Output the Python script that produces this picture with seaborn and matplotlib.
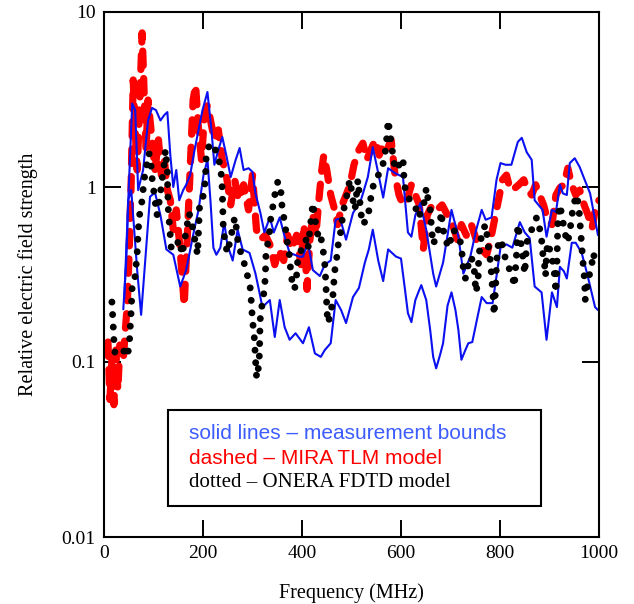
import numpy as np
import pandas as pd
import matplotlib
matplotlib.use("Agg")
import matplotlib.pyplot as plt
import seaborn as sns
from matplotlib.ticker import FixedLocator, FixedFormatter, NullLocator
from matplotlib.patches import Rectangle

# ---------------- data ----------------
upper_f = [41, 49, 57, 63, 69, 79, 89, 97, 105, 114, 122, 128, 134, 140, 146, 152, 160, 166, 174, 183,
           191, 199, 209, 217, 223, 231, 239, 247, 256, 266, 274, 282, 292, 300, 306, 316, 324, 335, 343, 355,
           365, 375, 385, 395, 402, 412, 422, 436, 446, 458, 468, 477, 489, 503, 519, 533, 543, 554, 564, 574,
           588, 604, 614, 621, 629, 639, 651, 665, 671, 685, 694, 702, 716, 726, 740, 752, 763, 771, 783, 793,
           801, 811, 823, 836, 844, 854, 864, 870, 886, 894, 905, 913, 921, 927, 935, 941, 951, 961, 971, 982,
           992, 998]
upper_v = [0.23, 0.84, 3.0, 2.75, 0.96, 1.25, 2.4, 2.83, 2.75, 2.4, 2.58, 2.68, 1.52, 1.0, 1.25, 0.84, 0.96, 1.03, 1.17, 1.63,
           2.12, 2.75, 3.49, 2.12, 1.34, 1.63, 1.93, 1.52, 1.14, 1.43, 1.67, 1.25, 1.28, 1.22, 0.92, 0.71, 0.55, 0.67, 0.55, 0.67,
           0.52, 0.42, 0.41, 0.40, 0.40, 0.48, 0.335, 0.31, 0.36, 0.38, 0.65, 0.66, 0.50, 0.71, 0.84, 1.14, 1.69, 1.20, 0.87, 1.28,
           1.20, 1.14, 0.55, 0.52, 0.69, 0.81, 0.57, 0.32, 0.27, 0.37, 0.53, 0.74, 0.52, 0.32, 0.40, 0.57, 0.74, 0.65, 0.67, 1.10,
           1.37, 1.34, 1.34, 1.81, 1.91, 1.58, 1.43, 0.84, 0.74, 0.52, 0.74, 0.72, 1.03, 0.92, 0.90, 1.37, 1.46, 1.30, 1.10, 0.92,
           0.65, 0.53]

lower_f = [39, 45, 49, 55, 61, 67, 75, 85, 93, 103, 114, 126, 140, 154, 166, 180, 191, 201, 209, 215,
           221, 227, 235, 243, 249, 260, 270, 280, 294, 306, 314, 320, 335, 345, 355, 365, 375, 387, 402, 414,
           426, 438, 446, 458, 468, 479, 489, 503, 515, 527, 535, 543, 554, 564, 574, 590, 600, 608, 614, 621,
           629, 635, 641, 651, 659, 665, 671, 679, 685, 694, 702, 710, 716, 722, 730, 736, 744, 752, 763, 773,
           785, 793, 801, 813, 825, 840, 850, 860, 870, 884, 894, 905, 915, 921, 929, 935, 945, 953, 965, 976,
           992, 998]
lower_v = [0.20, 0.38, 0.84, 0.96, 0.57, 0.335, 0.186, 0.44, 0.88, 0.93, 0.69, 0.44, 0.41, 0.27, 0.335, 0.53, 0.74, 1.17, 1.43, 0.84,
           0.45, 0.41, 0.45, 0.63, 0.47, 0.38, 0.57, 0.44, 0.42, 0.32, 0.25, 0.206, 0.226, 0.139, 0.226, 0.158, 0.134, 0.146, 0.128, 0.158,
           0.112, 0.107, 0.117, 0.128, 0.226, 0.198, 0.167, 0.235, 0.265, 0.37, 0.44, 0.57, 0.38, 0.29, 0.44, 0.40, 0.39, 0.26, 0.19, 0.169,
           0.226, 0.25, 0.275, 0.226, 0.152, 0.107, 0.092, 0.11, 0.128, 0.21, 0.25, 0.198, 0.152, 0.103, 0.117, 0.128, 0.13, 0.167, 0.235, 0.217,
           0.217, 0.31, 0.45, 0.47, 0.45, 0.63, 0.55, 0.51, 0.27, 0.25, 0.134, 0.25, 0.206, 0.35, 0.33, 0.30, 0.48, 0.48, 0.42, 0.32,
           0.206, 0.198]

mira_f = [8, 12, 16, 20, 24, 28, 32, 39, 43, 47, 51, 55, 59, 63, 67, 71, 75, 77, 81, 85,
          89, 93, 97, 103, 110, 116, 122, 128, 134, 140, 146, 152, 158, 162, 168, 174, 180, 185, 191, 197,
          203, 209, 215, 223, 231, 239, 247, 256, 264, 272, 282, 292, 300, 308, 316, 326, 335, 345, 353, 363,
          371, 379, 389, 398, 404, 410, 416, 422, 428, 434, 440, 444, 450, 458, 466, 472, 481, 489, 497, 505,
          515, 523, 531, 539, 548, 556, 564, 572, 580, 588, 596, 604, 612, 621, 629, 637, 645, 653, 663, 673,
          683, 694, 704, 714, 722, 732, 742, 752, 763, 773, 781, 789, 797, 805, 813, 821, 829, 838, 848, 856,
          864, 872, 880, 888, 896, 905, 913, 921, 929, 937, 945, 953, 961, 970, 978, 986, 994, 1000]
mira_v = [0.13, 0.061, 0.103, 0.057, 0.117, 0.069, 0.125, 0.103, 0.152, 0.21, 0.44, 1.10, 4.09, 2.12, 1.25, 2.41, 5.3, 7.6, 3.58, 1.63,
          3.14, 2.41, 1.86, 1.25, 1.86, 1.17, 1.43, 0.96, 0.84, 0.57, 0.74, 0.50, 0.31, 0.21, 0.50, 1.25, 3.14, 3.83, 2.12, 1.43,
          2.58, 2.94, 2.41, 1.86, 2.12, 1.43, 1.17, 0.79, 1.10, 0.84, 1.03, 0.74, 1.17, 0.57, 0.50, 0.53, 0.47, 0.36, 0.44, 0.38,
          0.53, 0.44, 0.53, 0.36, 0.61, 0.26, 0.50, 0.69, 0.53, 0.84, 1.25, 1.52, 1.25, 0.90, 0.74, 0.61, 0.79, 0.90, 1.03, 1.34,
          1.63, 1.78, 1.43, 1.63, 1.86, 1.52, 1.74, 1.63, 1.86, 1.17, 0.90, 0.79, 0.84, 1.03, 0.90, 0.79, 0.44, 0.69, 0.79, 0.74,
          0.79, 0.69, 0.61, 0.50, 0.61, 0.53, 0.61, 0.50, 0.44, 0.41, 0.50, 0.65, 0.84, 1.10, 1.17, 0.96, 0.98, 1.03, 1.10, 0.96,
          0.90, 1.03, 0.90, 0.79, 0.65, 0.61, 0.90, 0.99, 1.03, 1.28, 1.03, 0.90, 0.96, 0.79, 0.69, 0.58, 0.79, 0.84]

onera_f = [16, 18, 20, 22, 30, 39, 47, 51, 55, 57, 63, 67, 69, 71, 77, 81, 85, 91, 95, 97,
           103, 107, 112, 118, 122, 124, 128, 129, 130, 134, 136, 144, 152, 158, 164, 172, 178, 189, 193, 199,
           205, 206, 209, 215, 225, 233, 237, 239, 240, 241, 245, 249, 256, 264, 268, 270, 276, 284, 290, 296,
           298, 300, 304, 306, 308, 310, 314, 315, 316, 320, 324, 326, 327, 331, 335, 337, 341, 345, 351, 357,
           358, 361, 367, 371, 375, 377, 381, 385, 389, 391, 395, 402, 408, 412, 416, 420, 422, 428, 434, 438,
           444, 446, 448, 449, 450, 452, 458, 462, 464, 466, 470, 472, 479, 483, 489, 493, 497, 503, 507, 513,
           519, 523, 533, 537, 541, 546, 552, 560, 566, 570, 572, 574, 578, 582, 584, 590, 598, 604, 606, 610,
           619, 627, 635, 643, 649, 651, 655, 659, 661, 663, 665, 671, 679, 681, 687, 696, 706, 714, 722, 724,
           726, 730, 736, 742, 748, 750, 752, 756, 757, 761, 763, 771, 775, 777, 781, 783, 785, 787, 788, 791,
           793, 797, 803, 807, 815, 821, 825, 829, 831, 833, 834, 836, 840, 844, 846, 850, 854, 864, 874, 880,
           884, 886, 890, 892, 894, 896, 904, 909, 911, 913, 915, 917, 921, 925, 929, 933, 937, 941, 945, 947,
           955, 959, 961, 963, 965, 967, 969, 971, 972, 978, 986, 988, 994, 1000]
onera_v = [0.22, 0.174, 0.134, 0.114, 0.11, 0.117, 0.107, 0.125, 0.198, 0.275, 0.31, 0.42, 0.55, 0.67, 0.84, 1.10, 1.28, 1.56, 1.34, 1.13,
           0.84, 0.69, 0.84, 1.14, 1.37, 1.63, 1.25, 0.90, 0.74, 0.52, 0.44, 0.45, 0.50, 0.41, 0.52, 0.71, 0.61, 0.41, 0.77, 0.84,
           1.10, 1.43, 1.63, 1.78, 1.63, 1.39, 1.17, 0.96, 0.74, 0.58, 0.48, 0.42, 0.51, 0.67, 0.57, 0.50, 0.425, 0.36, 0.31, 0.26,
           0.21, 0.174, 0.134, 0.103, 0.084, 0.081, 0.11, 0.152, 0.186, 0.217, 0.26, 0.31, 0.40, 0.48, 0.57, 0.67, 0.77, 0.90, 1.07, 1.03,
           0.84, 0.74, 0.57, 0.47, 0.40, 0.335, 0.275, 0.26, 0.31, 0.37, 0.42, 0.45, 0.50, 0.44, 0.57, 0.72, 0.81, 0.61, 0.50, 0.52,
           0.41, 0.36, 0.29, 0.25, 0.21, 0.167, 0.186, 0.23, 0.275, 0.33, 0.39, 0.45, 0.57, 0.72, 0.84, 0.99, 1.10, 0.84, 0.74, 1.10,
           0.71, 0.61, 0.67, 0.79, 0.94, 1.07, 1.14, 1.25, 1.43, 1.74, 2.03, 2.41, 1.98, 1.67, 1.43, 1.25, 1.37, 1.46, 1.13, 0.90,
           0.84, 0.81, 0.67, 0.74, 0.87, 0.99, 0.84, 0.74, 0.62, 0.53, 0.47, 0.52, 0.62, 0.72, 0.53, 0.45, 0.57, 0.53, 0.47, 0.39,
           0.34, 0.30, 0.36, 0.40, 0.335, 0.28, 0.25, 0.31, 0.40, 0.48, 0.55, 0.61, 0.50, 0.44, 0.37, 0.31, 0.26, 0.217, 0.186, 0.26,
           0.37, 0.485, 0.50, 0.425, 0.36, 0.33, 0.31, 0.27, 0.33, 0.39, 0.47, 0.61, 0.52, 0.45, 0.40, 0.32, 0.48, 0.57, 0.67, 0.58,
           0.50, 0.425, 0.36, 0.31, 0.41, 0.48, 0.41, 0.34, 0.29, 0.25, 0.36, 0.67, 0.79, 0.69, 0.59, 0.52, 0.48, 0.57, 0.65, 0.77,
           0.90, 0.77, 0.67, 0.55, 0.47, 0.39, 0.335, 0.29, 0.226, 0.29, 0.37, 0.42, 0.37, 0.39]

y_ticks = [0.01, 0.1, 1, 10]
y_tick_labels = ["0.01", "0.1", "1", "10"]
x_ticks = [0, 200, 400, 600, 800, 1000]
x_tick_labels = ["0", "200", "400", "600", "800", "1000"]

legend_lines = ["solid lines \u2013 measurement bounds",
                "dashed \u2013 MIRA TLM model",
                "dotted \u2013 ONERA FDTD model"]

# ---------------- style ----------------
sns.set_style("ticks")
plt.rcParams["font.family"] = ["Liberation Serif", "DejaVu Serif"]
plt.rcParams["text.color"] = "black"
plt.rcParams["axes.labelcolor"] = "black"
plt.rcParams["xtick.color"] = "black"
plt.rcParams["ytick.color"] = "black"

fig = plt.figure(figsize=(6.34, 6.04), dpi=100)
ax = fig.add_axes([104 / 634, 1 - 537 / 604, 495 / 634, 525 / 604])

BLUE = "#0a10f0"
RED = "#ff0000"

# red dashed (MIRA TLM)
sns.lineplot(x=mira_f, y=mira_v, estimator=None, sort=False, color=RED, linewidth=5.2, ax=ax)
l = ax.lines[-1]
l.set_dashes([2.0, 1.8])
l.set_dash_capstyle("round")
l.set_solid_capstyle("round")

# blue measurement bounds
sns.lineplot(x=upper_f, y=upper_v, estimator=None, sort=False, color=BLUE, linewidth=1.5, ax=ax)
sns.lineplot(x=lower_f, y=lower_v, estimator=None, sort=False, color=BLUE, linewidth=1.5, ax=ax)

# black dotted (ONERA FDTD)
sns.lineplot(x=onera_f, y=onera_v, estimator=None, sort=False, color="black", linewidth=5.0, ax=ax)
l = ax.lines[-1]
l.set_dashes([0.001, 1.8])
l.set_dash_capstyle("round")

ax.set_yscale("log")
ax.set_xlim(0, 1000)
ax.set_ylim(0.01, 10)

ax.yaxis.set_major_locator(FixedLocator(y_ticks))
ax.yaxis.set_major_formatter(FixedFormatter(y_tick_labels))
ax.yaxis.set_minor_locator(NullLocator())
ax.xaxis.set_major_locator(FixedLocator(x_ticks))
ax.xaxis.set_major_formatter(FixedFormatter(x_tick_labels))

ax.tick_params(axis="both", which="major", direction="in", length=12, width=1.4,
               top=True, right=True, labelsize=14, colors="black", labelcolor="black", pad=6)
for s in ax.spines.values():
    s.set_linewidth(1.5)
    s.set_color("black")

ax.set_xlabel("Frequency (MHz)", fontsize=14.5, labelpad=15, color="black")
ax.set_ylabel("Relative electric field strength", fontsize=14.5, labelpad=17, color="black")

# legend box with coloured text
ax.add_patch(Rectangle((0.1295, 0.059), 0.754, 0.183, transform=ax.transAxes,
                       fill=True, facecolor="white", edgecolor="black", linewidth=1.5, zorder=5))
ax.text(0.172, 0.198, legend_lines[0], transform=ax.transAxes, color="#3d5cff",
        family=["Liberation Sans", "DejaVu Sans"], fontsize=15, va="center", ha="left", zorder=6)
ax.text(0.172, 0.150, legend_lines[1], transform=ax.transAxes, color=RED,
        family=["Liberation Sans", "DejaVu Sans"], fontsize=15, va="center", ha="left", zorder=6)
ax.text(0.172, 0.104, legend_lines[2], transform=ax.transAxes, color="black",
        family=["Liberation Serif", "DejaVu Serif"], fontsize=15, va="center", ha="left", zorder=6)

fig.savefig("out.png", dpi=100)
